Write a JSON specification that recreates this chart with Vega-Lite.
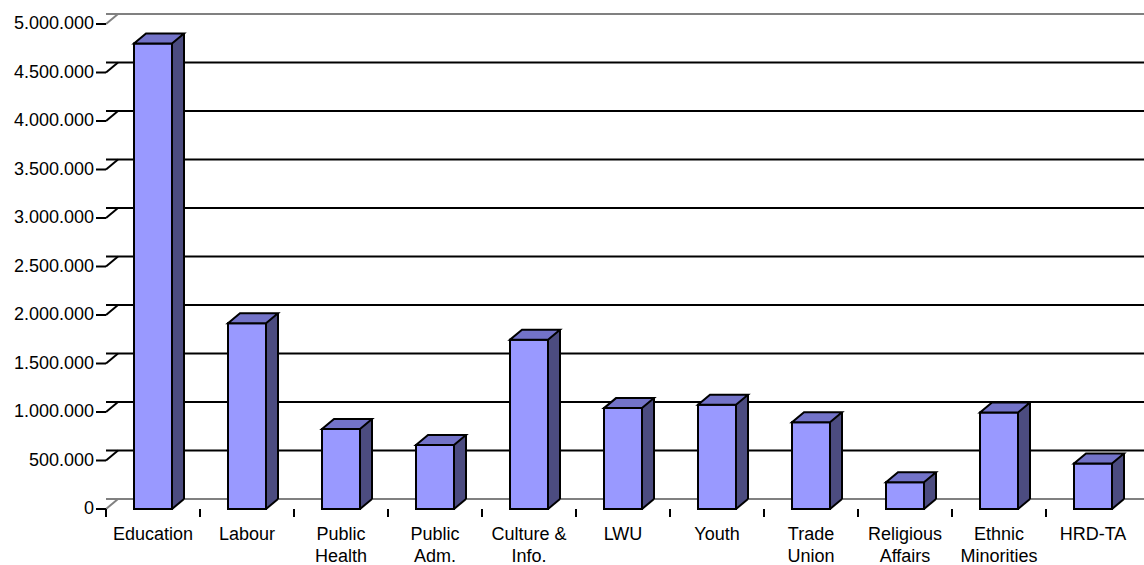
{
  "$schema": "https://vega.github.io/schema/vega-lite/v6.json",
  "width": 1034,
  "height": 485,
  "autosize": {"type": "none"},
  "padding": {"left": 106, "top": 24, "right": 4, "bottom": 56},
  "background": "white",
  "config": {
    "view": {"stroke": null},
    "font": "Liberation Sans"
  },
  "datasets": {
    "sectors": [
      {"sector": "Education", "label": ["Education"], "amount": 4800000},
      {"sector": "Labour", "label": ["Labour"], "amount": 1915000},
      {"sector": "Public Health", "label": ["Public", "Health"], "amount": 825000},
      {"sector": "Public Adm.", "label": ["Public", "Adm."], "amount": 660000},
      {"sector": "Culture & Info.", "label": ["Culture &", "Info."], "amount": 1745000},
      {"sector": "LWU", "label": ["LWU"], "amount": 1040000},
      {"sector": "Youth", "label": ["Youth"], "amount": 1075000},
      {"sector": "Trade Union", "label": ["Trade", "Union"], "amount": 895000},
      {"sector": "Religious Affairs", "label": ["Religious", "Affairs"], "amount": 275000},
      {"sector": "Ethnic Minorities", "label": ["Ethnic", "Minorities"], "amount": 995000},
      {"sector": "HRD-TA", "label": ["HRD-TA"], "amount": 470000}
    ],
    "levels": [
      {"v": 0, "label": "0"},
      {"v": 500000, "label": "500.000"},
      {"v": 1000000, "label": "1.000.000"},
      {"v": 1500000, "label": "1.500.000"},
      {"v": 2000000, "label": "2.000.000"},
      {"v": 2500000, "label": "2.500.000"},
      {"v": 3000000, "label": "3.000.000"},
      {"v": 3500000, "label": "3.500.000"},
      {"v": 4000000, "label": "4.000.000"},
      {"v": 4500000, "label": "4.500.000"},
      {"v": 5000000, "label": "5.000.000"}
    ]
  },
  "layer": [
    {
      "description": "back wall grid lines, floor edge and wall top",
      "data": {"name": "levels"},
      "mark": {"type": "rule", "xOffset": 12, "x2Offset": 4, "yOffset": -10, "strokeWidth": 2},
      "encoding": {
        "y": {"field": "v", "type": "quantitative", "scale": {"domain": [0, 5000000], "nice": false}, "axis": null},
        "color": {
          "condition": {"test": "datum.v == 0 || datum.v == 5000000", "value": "#808080"},
          "value": "black"
        }
      }
    },
    {
      "description": "side wall connectors from the value axis to the back wall",
      "data": {"name": "levels"},
      "mark": {"type": "point", "shape": "M-1,0.8333L1,-0.8333", "size": 144, "filled": false, "opacity": 1, "strokeWidth": 2, "xOffset": 6, "yOffset": -5},
      "encoding": {
        "x": {
          "datum": "Education", "type": "nominal", "bandPosition": 0, "axis": null,
          "scale": {"domain": ["Education", "Labour", "Public Health", "Public Adm.", "Culture & Info.", "LWU", "Youth", "Trade Union", "Religious Affairs", "Ethnic Minorities", "HRD-TA"], "paddingInner": 0, "paddingOuter": 0}
        },
        "y": {"field": "v", "type": "quantitative", "axis": null},
        "color": {
          "condition": {"test": "datum.v == 0 || datum.v == 5000000", "value": "#808080"},
          "value": "black"
        }
      }
    },
    {
      "description": "back wall vertical edge",
      "mark": {"type": "rule", "color": "#808080", "strokeWidth": 2, "xOffset": 12, "yOffset": -10, "y2Offset": -10},
      "encoding": {
        "x": {"datum": "Education", "type": "nominal", "bandPosition": 0, "axis": null},
        "y": {"datum": 0, "type": "quantitative", "axis": null},
        "y2": {"datum": 5000000}
      }
    },
    {
      "description": "floor right edge",
      "mark": {"type": "point", "shape": "M-1,0.8333L1,-0.8333", "size": 144, "filled": false, "opacity": 1, "strokeWidth": 2, "color": "#808080", "xOffset": 6, "yOffset": -5},
      "encoding": {
        "x": {"datum": "HRD-TA", "type": "nominal", "bandPosition": 1, "axis": null},
        "y": {"datum": 0, "type": "quantitative", "axis": null}
      }
    },
    {
      "description": "bar side face body",
      "data": {"name": "sectors"},
      "mark": {"type": "bar", "width": 12, "xOffset": 25, "yOffset": -10, "y2Offset": -10, "color": "#4C4C80", "strokeWidth": 0},
      "encoding": {
        "x": {"field": "sector", "type": "nominal", "axis": null},
        "y": {"field": "amount", "type": "quantitative", "axis": null}
      }
    },
    {
      "description": "bar side face foot",
      "data": {"name": "sectors"},
      "mark": {"type": "point", "shape": "M-1,-0.8333L-1,0.8333L1,-0.8333Z", "size": 144, "filled": true, "opacity": 1, "strokeWidth": 0, "color": "#4C4C80", "xOffset": 25, "yOffset": -5},
      "encoding": {
        "x": {"field": "sector", "type": "nominal", "axis": null},
        "y": {"datum": 0, "type": "quantitative", "axis": null}
      }
    },
    {
      "description": "bar front face",
      "data": {"name": "sectors"},
      "mark": {"type": "bar", "width": 38, "fill": "#9999FF", "stroke": "black", "strokeWidth": 2},
      "encoding": {
        "x": {"field": "sector", "type": "nominal", "axis": null},
        "y": {"field": "amount", "type": "quantitative", "axis": null}
      }
    },
    {
      "description": "bar top face",
      "data": {"name": "sectors"},
      "mark": {"type": "point", "shape": "M-1,0.2L0.52,0.2L1,-0.2L-0.52,-0.2Z", "size": 2500, "filled": true, "opacity": 1, "fill": "#7373C8", "stroke": "black", "strokeWidth": 2, "xOffset": 6, "yOffset": -5},
      "encoding": {
        "x": {"field": "sector", "type": "nominal", "axis": null},
        "y": {"field": "amount", "type": "quantitative", "axis": null}
      }
    },
    {
      "description": "bar side face back edge",
      "data": {"name": "sectors"},
      "mark": {"type": "rule", "color": "black", "strokeWidth": 2, "xOffset": 31, "yOffset": -10, "y2Offset": -10},
      "encoding": {
        "x": {"field": "sector", "type": "nominal", "axis": null},
        "y": {"field": "amount", "type": "quantitative", "axis": null},
        "y2": {"datum": 0}
      }
    },
    {
      "description": "bar side face bottom edge",
      "data": {"name": "sectors"},
      "mark": {"type": "point", "shape": "M-1,0.8333L1,-0.8333", "size": 144, "filled": false, "opacity": 1, "strokeWidth": 2, "color": "black", "xOffset": 25, "yOffset": -5},
      "encoding": {
        "x": {"field": "sector", "type": "nominal", "axis": null},
        "y": {"datum": 0, "type": "quantitative", "axis": null}
      }
    },
    {
      "description": "category axis line",
      "mark": {"type": "rule", "color": "black", "strokeWidth": 2},
      "encoding": {
        "y": {"datum": 0, "type": "quantitative", "axis": null}
      }
    },
    {
      "description": "value axis line",
      "mark": {"type": "rule", "color": "black", "strokeWidth": 2},
      "encoding": {
        "x": {"datum": "Education", "type": "nominal", "bandPosition": 0, "axis": null},
        "y": {"datum": 0, "type": "quantitative", "axis": null},
        "y2": {"datum": 5000000}
      }
    },
    {
      "description": "value axis ticks",
      "data": {"name": "levels"},
      "mark": {"type": "point", "shape": "M-1,0L1,0", "size": 100, "filled": false, "opacity": 1, "strokeWidth": 2, "color": "black", "xOffset": -5},
      "encoding": {
        "x": {"datum": "Education", "type": "nominal", "bandPosition": 0, "axis": null},
        "y": {"field": "v", "type": "quantitative", "axis": null}
      }
    },
    {
      "description": "category axis ticks at band edges",
      "data": {"name": "sectors"},
      "mark": {"type": "point", "shape": "M0,-1L0,1", "size": 64, "filled": false, "opacity": 1, "strokeWidth": 2, "color": "black", "yOffset": 4},
      "encoding": {
        "x": {"field": "sector", "type": "nominal", "bandPosition": 0, "axis": null},
        "y": {"datum": 0, "type": "quantitative", "axis": null}
      }
    },
    {
      "description": "closing category tick",
      "mark": {"type": "point", "shape": "M0,-1L0,1", "size": 64, "filled": false, "opacity": 1, "strokeWidth": 2, "color": "black", "yOffset": 4},
      "encoding": {
        "x": {"datum": "HRD-TA", "type": "nominal", "bandPosition": 1, "axis": null},
        "y": {"datum": 0, "type": "quantitative", "axis": null}
      }
    },
    {
      "description": "value axis labels",
      "data": {"name": "levels"},
      "mark": {"type": "text", "align": "right", "baseline": "middle", "fontSize": 18, "font": "Liberation Sans", "color": "black", "xOffset": -12},
      "encoding": {
        "x": {"datum": "Education", "type": "nominal", "bandPosition": 0, "axis": null},
        "y": {"field": "v", "type": "quantitative", "axis": null},
        "text": {"field": "label"}
      }
    },
    {
      "description": "category labels",
      "data": {"name": "sectors"},
      "mark": {"type": "text", "align": "center", "baseline": "top", "fontSize": 18, "lineHeight": 22, "font": "Liberation Sans", "color": "black", "yOffset": 17},
      "encoding": {
        "x": {"field": "sector", "type": "nominal", "axis": null},
        "y": {"datum": 0, "type": "quantitative", "axis": null},
        "text": {"field": "label"}
      }
    }
  ]
}
